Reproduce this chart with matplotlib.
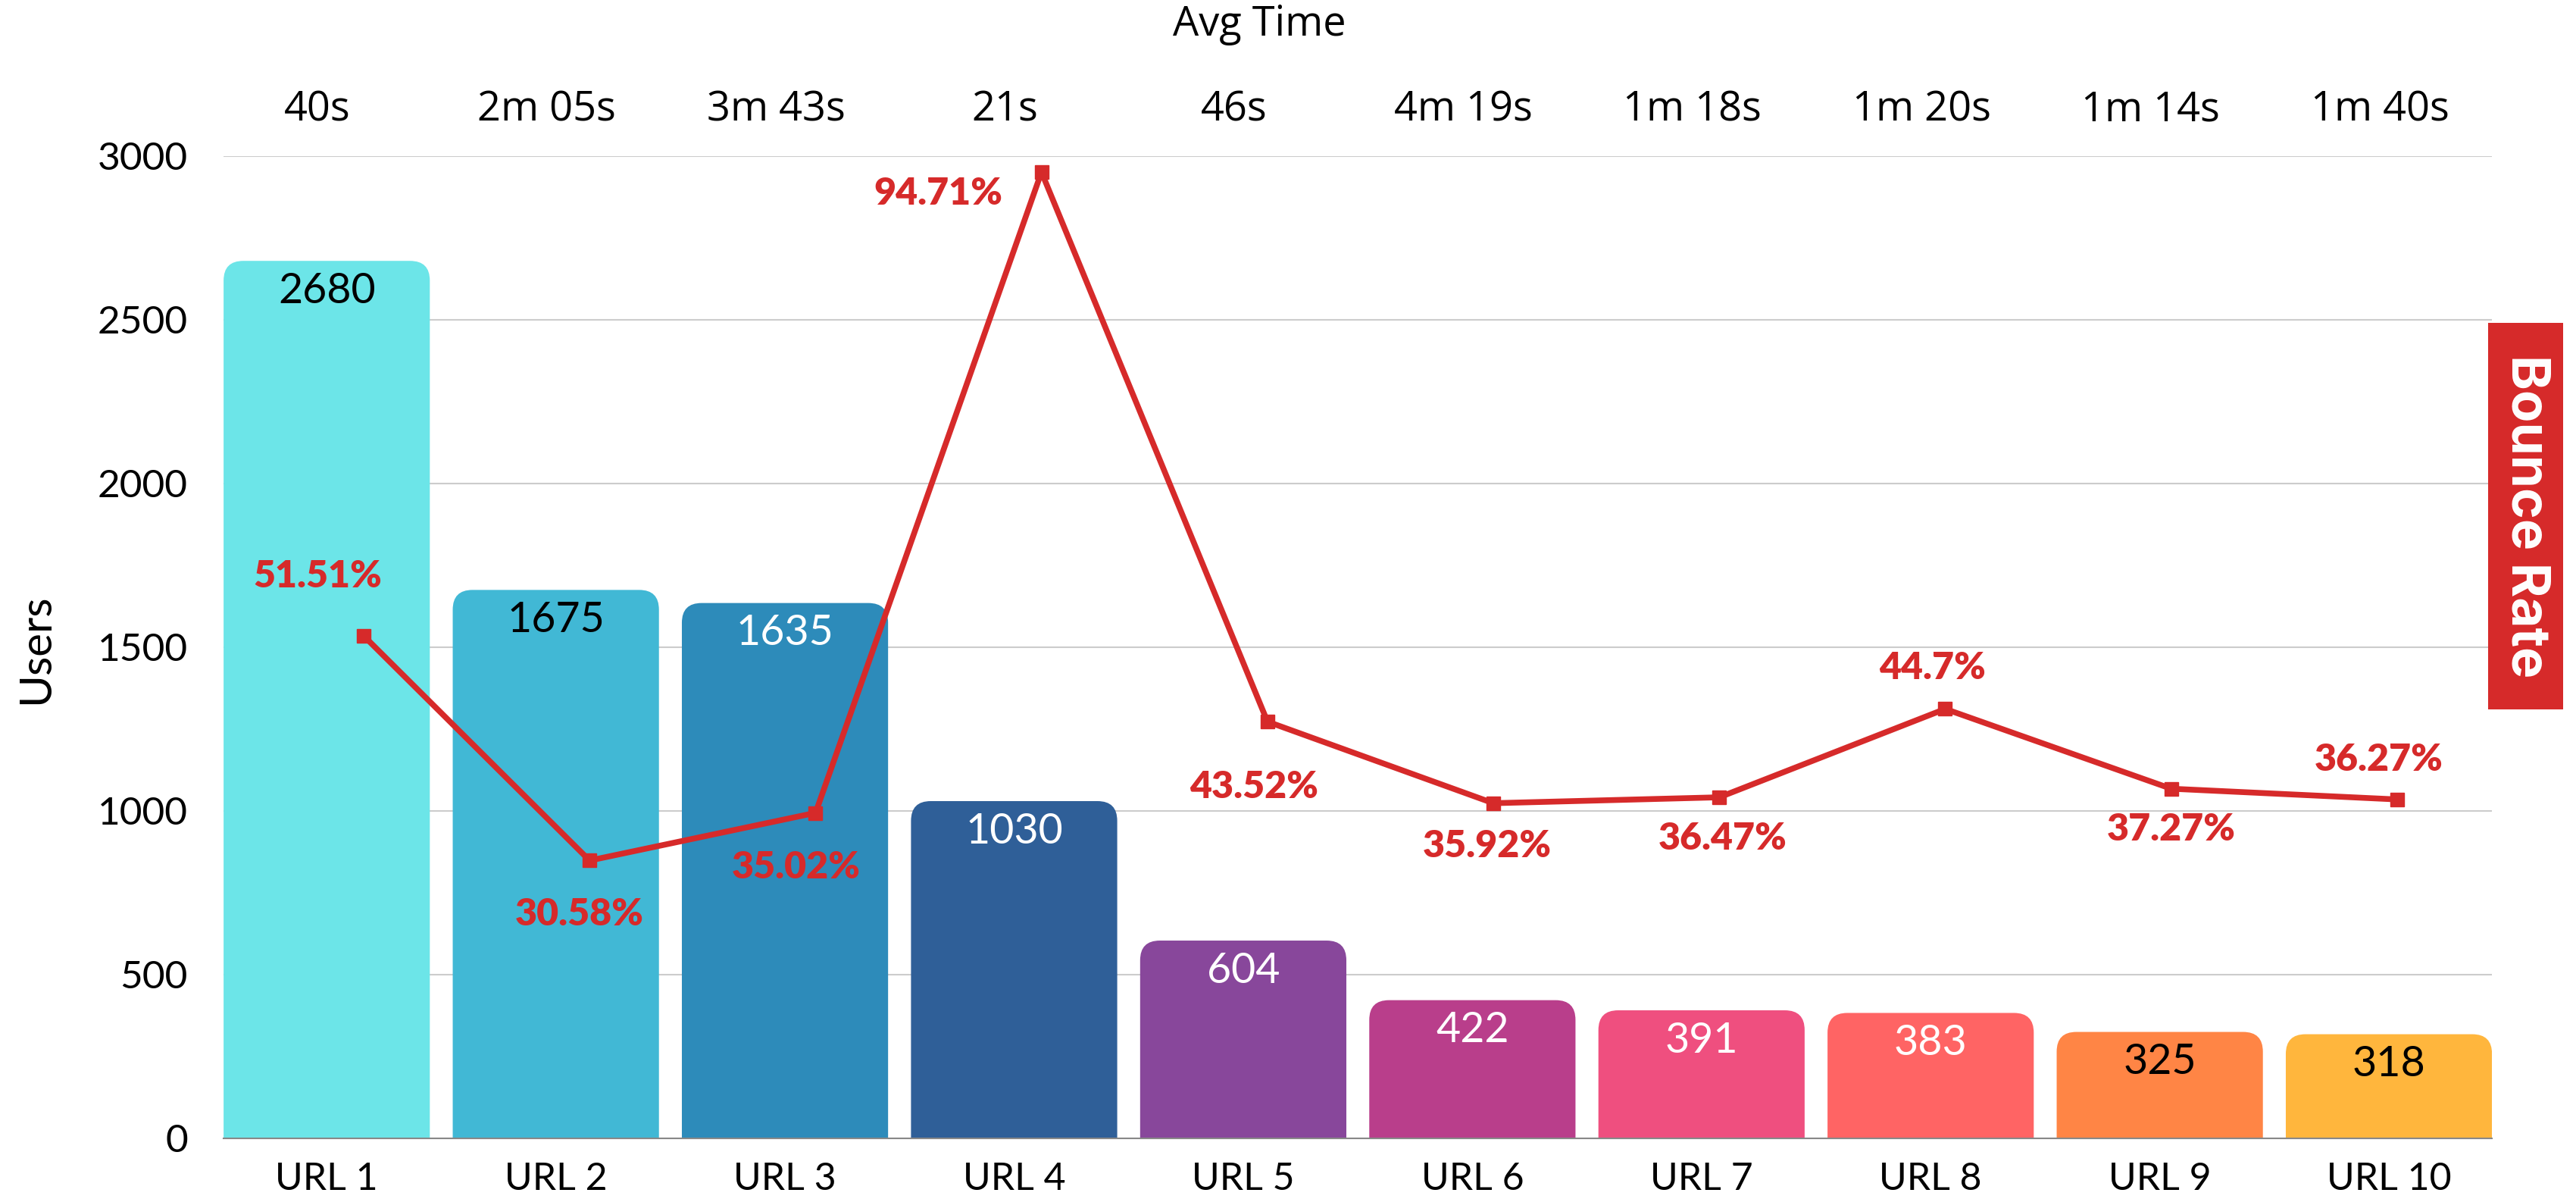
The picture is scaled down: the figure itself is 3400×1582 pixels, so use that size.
import matplotlib.pyplot as plt
from matplotlib.path import Path
from matplotlib.patches import PathPatch, Rectangle
import matplotlib.transforms as mtransforms

urls = ['URL 1', 'URL 2', 'URL 3', 'URL 4', 'URL 5', 'URL 6', 'URL 7', 'URL 8', 'URL 9', 'URL 10']
users = [2680, 1675, 1635, 1030, 604, 422, 391, 383, 325, 318]
bounce = [51.51, 30.58, 35.02, 94.71, 43.52, 35.92, 36.47, 44.7, 37.27, 36.27]
avg_time = ['40s', '2m 05s', '3m 43s', '21s', '46s', '4m 19s', '1m 18s', '1m 20s', '1m 14s', '1m 40s']

colors = ['#6CE5E8', '#41B8D5', '#2D8BBA', '#2F5F98', '#88479B',
          '#B93E8B', '#EF4F7F', '#FF6464', '#FF8545', '#FFB63D']
label_colors = ['black', 'black', 'white', 'white', 'white',
                'white', 'white', 'white', 'black', 'black']
# offsets (in reference px) of the percent labels from their markers
pct_offsets = [(-28, 36), (-6, -33), (-12, -33), (-63, -13), (-8, -40),
               (-4, -26), (2, -25), (-8, 25), (0, -25), (-11, 24)]

RED = '#D62A2A'
W, H, DPI = 34, 15.82, 100
rect = [0.0868, 0.0506, 0.8806, 0.8192]

fig = plt.figure(figsize=(W, H), dpi=DPI)
ax = fig.add_axes(rect)

x = list(range(len(urls)))
bars = ax.bar(x, users, width=0.9, color=colors, zorder=2)
ax.set_xlim(-0.45, 9.45)
ax.set_ylim(0, 3000)

# round the top corners of each bar
ax_w_px = rect[2] * W * DPI
ax_h_px = rect[3] * H * DPI
r_px = 26
rx = r_px * 9.9 / ax_w_px
ry = r_px * 3000 / ax_h_px
for b, c in zip(bars, colors):
    x0, w, h = b.get_x(), b.get_width(), b.get_height()
    x1 = x0 + w
    verts = [(x0, 0), (x0, h - ry), (x0, h), (x0 + rx, h), (x1 - rx, h),
             (x1, h), (x1, h - ry), (x1, 0), (x0, 0)]
    codes = [Path.MOVETO, Path.LINETO, Path.CURVE3, Path.CURVE3, Path.LINETO,
             Path.CURVE3, Path.CURVE3, Path.LINETO, Path.CLOSEPOLY]
    b.set_visible(False)
    ax.add_patch(PathPatch(Path(verts, codes), facecolor=c, edgecolor='none', zorder=2))

for xi, v, lc in zip(x, users, label_colors):
    ax.annotate(str(v), (xi, v), xytext=(0, -29), textcoords='offset points',
                ha='center', va='center', fontsize=40, color=lc, family='Lato')

ax.set_yticks(range(0, 3001, 500))
ax.set_xticks(x)
ax.set_xticklabels(urls, fontsize=36, family='Lato')
ax.tick_params(axis='y', length=0, pad=34, labelsize=37)
ax.tick_params(axis='x', length=0, pad=22)
for lab in ax.get_yticklabels():
    lab.set_family('Lato')
ax.grid(axis='y', color='#CCCCCC', linewidth=1.5, zorder=0)
ax.set_axisbelow(True)
for s in ['top', 'right', 'left']:
    ax.spines[s].set_visible(False)
ax.spines['bottom'].set_color('#888888')
ax.spines['bottom'].set_linewidth(1.5)

fig.text(0.014, 0.459, 'Users', rotation=90, ha='center', va='center',
         fontsize=42, family='Lato')

# avg time row above the plot
trans = mtransforms.blended_transform_factory(ax.transData, ax.transAxes)
for xi, t in zip(x, avg_time):
    ax.text(xi - 0.04, 1.047, t, transform=trans, ha='center', va='center',
            fontsize=39, family='Open Sans')
fig.text(0.489, 1 - 33 / 1582, 'Avg Time', ha='center', va='center',
         fontsize=39, family='Open Sans')

# bounce rate line on its own overlaid axes (points sit slightly right of bar centres)
ax2 = fig.add_axes(rect, facecolor='none')
ax2.set_xlim(-0.62, 9.42)
ax2.set_ylim(4.7, 96.2)
ax2.axis('off')
ax2.plot(x, bounce, color=RED, linewidth=5.5, marker='s', markersize=13.5, zorder=3)
k = 1.56
for xi, p, (dx, dy) in zip(x, bounce, pct_offsets):
    ax2.annotate(f'{p}%', (xi, p), xytext=(dx * k, dy * k), textcoords='offset points',
                 ha='center', va='center', fontsize=36, fontweight='heavy',
                 color=RED, family='Lato')

# "Bounce Rate" tag on the right
fig.patches.append(Rectangle((0.9659, 0.4083), 0.0291, 0.3224, transform=fig.transFigure,
                             facecolor=RED, edgecolor='none'))
fig.text(0.9659 + 0.0291 / 2, 0.4083 + 0.3224 / 2, 'Bounce Rate', rotation=-90,
         ha='center', va='center', fontsize=50, fontweight='bold', color='white',
         family='Inter')

fig.savefig('out.png', dpi=DPI)
